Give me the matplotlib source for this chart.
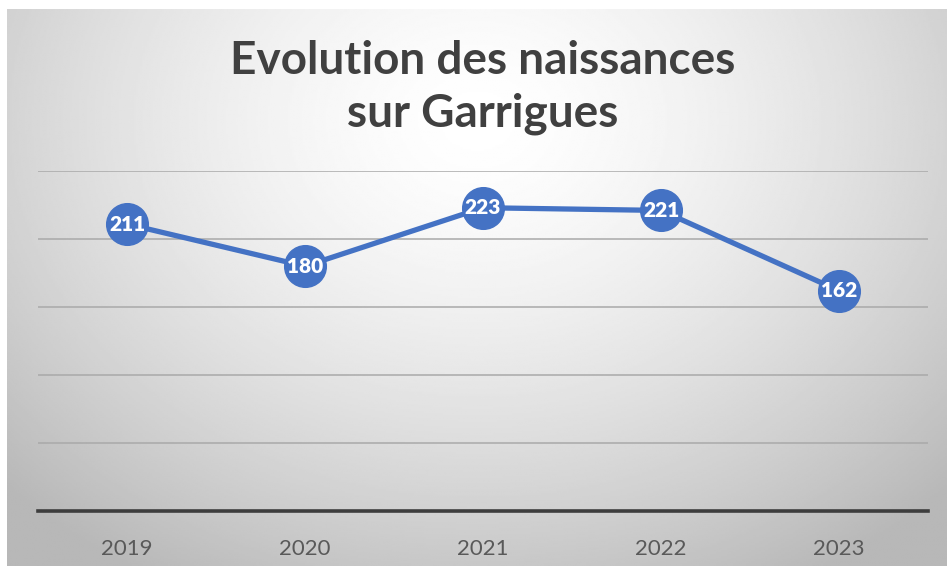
import numpy as np
import matplotlib
matplotlib.use('Agg')
from matplotlib import pyplot as plt

# Data
years = ['2019', '2020', '2021', '2022', '2023']
births = [211, 180, 223, 221, 162]
title_lines = ['Evolution des naissances', 'sur Garrigues']

W, H = 947, 566
fig = plt.figure(figsize=(W / 100, H / 100), dpi=100)
fig.patch.set_facecolor('white')

# radial gradient background of the chart area
bg = fig.add_axes([7 / W, 0, 1 - 7 / W, 1 - 9 / H])
bg.set_axis_off()
yy, xx = np.mgrid[0:1:300j, 0:1:500j]
r = np.sqrt(((xx - 0.5) / 0.7) ** 2 + ((yy - 0.2) / 0.95) ** 2)
shade = 1.0 - 0.28 * np.clip(r, 0, 1) ** 1.5
bg.imshow(shade, cmap='gray', vmin=0, vmax=1, aspect='auto',
          extent=[0, 1, 1, 0], interpolation='bilinear')
bg.set_xlim(0, 1)
bg.set_ylim(1, 0)

# plot area
ax = fig.add_axes([38 / W, (H - 511) / H, (928 - 38) / W, (511 - 171) / H])
ax.patch.set_alpha(0)
x = np.arange(len(years))
ax.set_xlim(-0.5, len(years) - 0.5)
ax.set_ylim(0, 250)
for g in [50, 100, 150, 200, 250]:
    ax.axhline(g, color='#a9a9a9', lw=1.1, zorder=1)
ax.axhline(0, color='#3d3d3d', lw=2.6, zorder=2, clip_on=False)
for s in ax.spines.values():
    s.set_visible(False)

ax.plot(x, births, color='#4472c4', lw=3.8, zorder=3, solid_capstyle='round')
ax.plot(x, births, 'o', ms=30, color='#4472c4', mec='#4472c4', zorder=4, clip_on=False)
for xi, v in zip(x, births):
    ax.text(xi, v, str(v), ha='center', va='center', color='white',
            fontsize=15, fontweight='heavy', family='Lato', zorder=5)

ax.set_xticks(x)
ax.set_xticklabels(years, fontsize=16, color='#595959', family='Lato')
ax.tick_params(axis='x', length=0, pad=20)
ax.set_yticks([])

fig.text(483 / W, 1 - 61 / H, title_lines[0], ha='center', va='center',
         fontsize=33, fontweight='bold', color='#404040', family='Lato')
fig.text(483 / W, 1 - 114 / H, title_lines[1], ha='center', va='center',
         fontsize=33, fontweight='bold', color='#404040', family='Lato')

fig.savefig('out.png', dpi=100)
